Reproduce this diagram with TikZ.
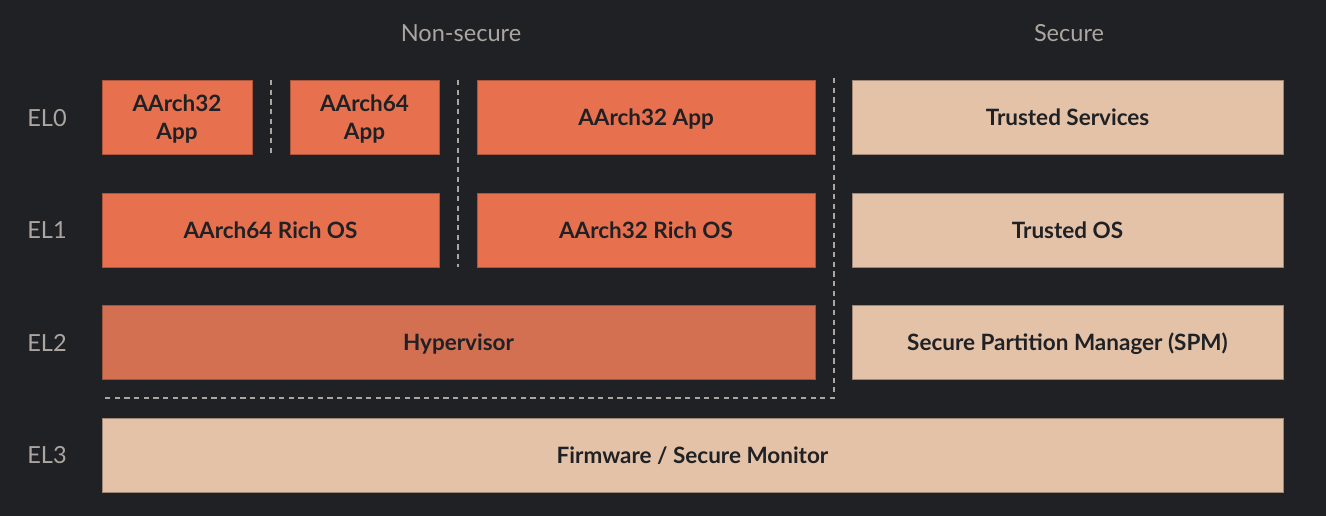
\documentclass[tikz,border=0pt]{standalone}
\usepackage{fontspec}
\setmainfont{Lato}
\usepackage{tikz}

\definecolor{bgdark}{HTML}{202124}
\definecolor{nsorange}{HTML}{E7714F}
\definecolor{hyporange}{HTML}{D37052}
\definecolor{secbeige}{HTML}{E3C2A8}
\definecolor{labelgray}{HTML}{ABA6A1}

\tikzset{
  layerbox/.style={rectangle, inner sep=0pt, minimum height=1.48cm, text depth=0pt,
    text=bgdark, font=\bfseries\fontsize{12.8}{16}\selectfont, align=center},
  nsbox/.style={layerbox, fill=nsorange, draw=nsorange!75!black, line width=0.4pt},
  hypbox/.style={layerbox, fill=hyporange, draw=hyporange!75!black, line width=0.4pt},
  secbox/.style={layerbox, fill=secbeige, draw=secbeige!70!black, line width=0.4pt},
  ellabel/.style={text=labelgray, font=\fontsize{13.4}{16}\selectfont},
  worldsep/.style={labelgray, line width=0.6pt, dash pattern=on 3pt off 2.5pt}
}

\begin{document}
\begin{tikzpicture}[x=0.02cm, y=-0.02cm]

% Background
\fill[bgdark] (0,0) rectangle (1326,516);
\useasboundingbox (0,0) rectangle (1326,516);

% World titles
\node[ellabel] (nstitle) at (461,33) {Non-secure};
\node[ellabel] (sectitle) at (1069,33) {Secure};

% Exception level labels
\node[ellabel] (el0) at (47,118) {EL0};
\node[ellabel] (el1) at (47,230) {EL1};
\node[ellabel] (el2) at (47,343) {EL2};
\node[ellabel] (el3) at (47,455) {EL3};

% EL0
\node[nsbox, minimum width=3cm] (appa) at (177,117) {AArch32\\App};
\node[nsbox, minimum width=2.98cm] (appb) at (364.5,117) {AArch64\\App};
\node[nsbox, minimum width=6.76cm] (appc) at (646,117) {AArch32 App};
\node[secbox, minimum width=8.62cm] (tsvc) at (1067.5,117) {Trusted Services};

% EL1
\node[nsbox, minimum width=6.74cm] (osa) at (270.5,230) {AArch64 Rich OS};
\node[nsbox, minimum width=6.76cm] (osb) at (646,230) {AArch32 Rich OS};
\node[secbox, minimum width=8.62cm] (tos) at (1067.5,230) {Trusted OS};

% EL2
\node[hypbox, minimum width=14.26cm] (hyp) at (458.5,342) {Hypervisor};
\node[secbox, minimum width=8.62cm] (spm) at (1067.5,342) {Secure Partition Manager (SPM)};

% EL3
\node[secbox, minimum width=23.62cm] (fw) at (692.5,455) {Firmware / Secure Monitor};

% Separators
\coordinate (sepa) at (271,80);
\coordinate (sepb) at (458,80);
\coordinate (sepc) at (834,78);
\coordinate (corner) at (834,398);
\coordinate (sepend) at (102,398);
\draw[worldsep] (sepa) -- (sepa |- appa.south);
\draw[worldsep] (sepb) -- (sepb |- osb.south);
\draw[worldsep] (sepc) -- (corner) -- (sepend);

\end{tikzpicture}
\end{document}
